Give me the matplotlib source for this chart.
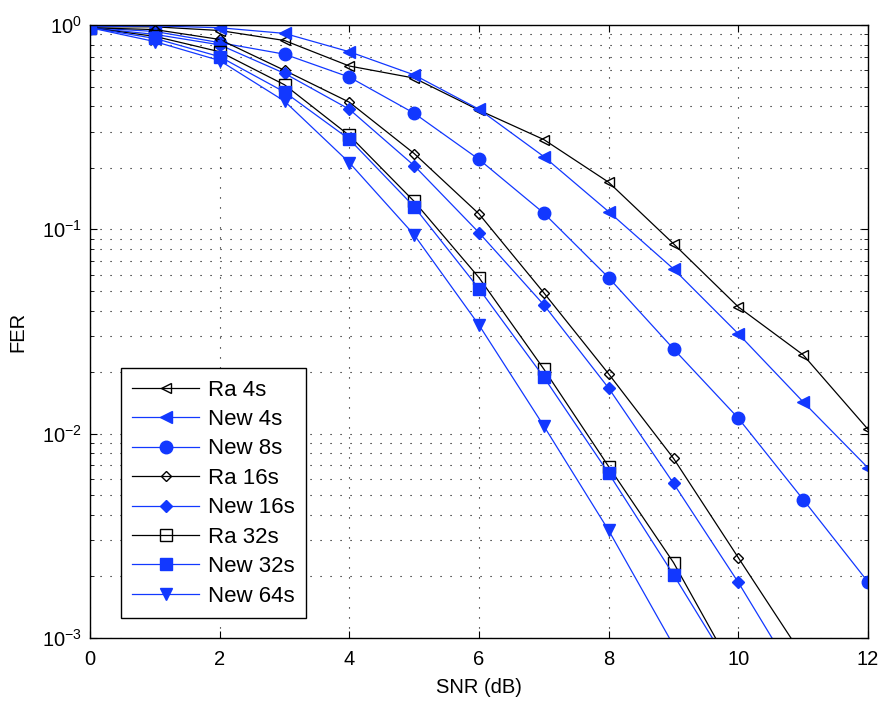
import numpy as np
import matplotlib
matplotlib.use("Agg")
import matplotlib.pyplot as plt
from matplotlib.ticker import LogLocator, NullFormatter

plt.rcParams['font.family'] = ['Liberation Sans', 'DejaVu Sans']
plt.rcParams['mathtext.fontset'] = 'custom'
plt.rcParams['mathtext.rm'] = 'Liberation Sans'

snr = np.arange(0, 13)

ra_4s = [0.98, 0.98, 0.94, 0.84, 0.63, 0.55, 0.383, 0.275, 0.17, 0.085, 0.0417, 0.0243, 0.0105]
new_4s = [0.98, 0.99, 0.97, 0.91, 0.74, 0.57, 0.387, 0.227, 0.122, 0.064, 0.0308, 0.0143, 0.0068]
new_8s = [0.97, 0.93, 0.82, 0.72, 0.556, 0.37, 0.22, 0.12, 0.058, 0.026, 0.0119, 0.00476, 0.00188]
ra_16s = [0.97, 0.95, 0.85, 0.6, 0.419, 0.235, 0.119, 0.0489, 0.0196, 0.00757, 0.00247, 0.00081]
new_16s = [0.97, 0.90, 0.80, 0.58, 0.387, 0.205, 0.0963, 0.0427, 0.0167, 0.00571, 0.00187, 0.00056]
ra_32s = [0.97, 0.88, 0.74, 0.51, 0.288, 0.137, 0.058, 0.0207, 0.0069, 0.00234, 0.00063]
new_32s = [0.97, 0.86, 0.70, 0.47, 0.276, 0.129, 0.0512, 0.0189, 0.0064, 0.00204, 0.00062]
new_64s = [0.97, 0.83, 0.67, 0.424, 0.212, 0.094, 0.034, 0.0109, 0.00336, 0.00092]

blue = '#1238ff'
series = [
    ("Ra 4s", ra_4s, 'k', '<', 'none', 7),
    ("New 4s", new_4s, blue, '<', blue, 9),
    ("New 8s", new_8s, blue, 'o', blue, 9),
    ("Ra 16s", ra_16s, 'k', 'D', 'none', 5.5),
    ("New 16s", new_16s, blue, 'D', blue, 6),
    ("Ra 32s", ra_32s, 'k', 's', 'none', 8),
    ("New 32s", new_32s, blue, 's', blue, 8),
    ("New 64s", new_64s, blue, 'v', blue, 8),
]

fig = plt.figure(figsize=(8.85, 7.01), dpi=100)
ax = fig.add_axes([0.1017, 0.0899, 0.8791, 0.8744])

for label, vals, col, mk, fc, ms in series:
    ax.semilogy(snr[:len(vals)], vals, color=col, marker=mk, markerfacecolor=fc,
                markeredgecolor=col, markersize=ms, linewidth=0.9, label=label)

ax.set_xlim(0, 12)
ax.set_ylim(1e-3, 1)
ax.set_xticks(range(0, 13, 2))
ax.yaxis.set_major_locator(LogLocator(base=10, numticks=10))
ax.yaxis.set_minor_locator(LogLocator(base=10, subs=np.arange(2, 10), numticks=10))
ax.yaxis.set_minor_formatter(NullFormatter())

dots = (0, (1, 8))
ax.grid(True, which='major', axis='both', linestyle=dots, color='k', linewidth=0.8)
ax.grid(True, which='minor', axis='y', linestyle=dots, color='k', linewidth=0.8)

ax.tick_params(which='both', direction='in', top=True, right=True, labelsize=14.5)
ax.tick_params(which='major', length=5)
ax.tick_params(which='minor', length=3)
ax.tick_params(axis='x', pad=9)
ax.tick_params(axis='y', pad=6)
for s in ax.spines.values():
    s.set_linewidth(1.0)

ax.set_xlabel("SNR (dB)", fontsize=14.5, labelpad=6)
ax.set_ylabel("FER", fontsize=14.5, labelpad=10)

leg = ax.legend(loc='lower left', bbox_to_anchor=(0.04, 0.033), borderaxespad=0,
                fontsize=16, fancybox=False, edgecolor='k', framealpha=1,
                handlelength=3.0, labelspacing=0.38, borderpad=0.5, handletextpad=0.4)
leg.get_frame().set_linewidth(1.0)

fig.savefig("out.png", dpi=100)
